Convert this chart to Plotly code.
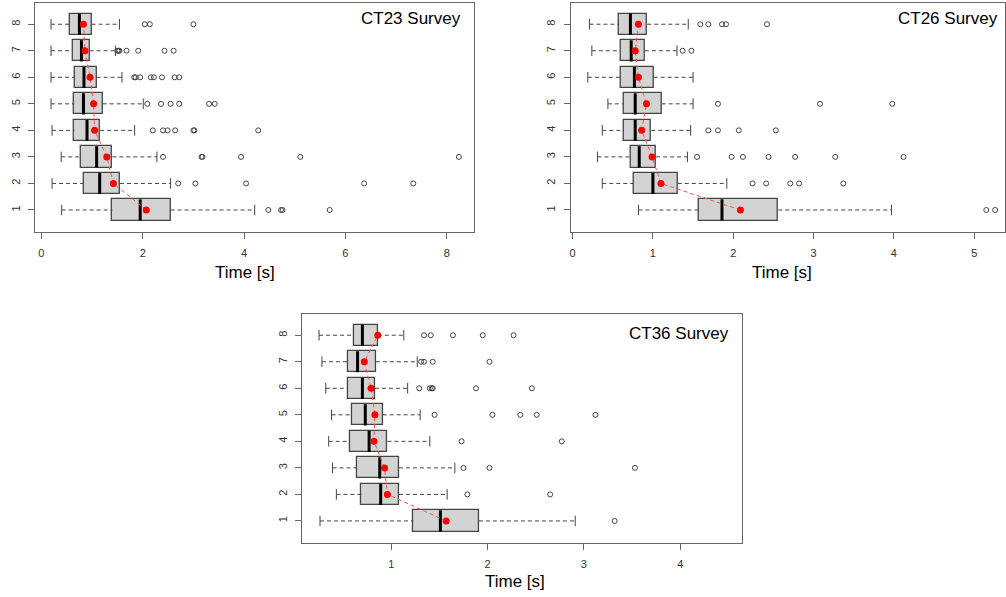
import plotly.graph_objects as go

categories = [1, 2, 3, 4, 5, 6, 7, 8]

# ---------------- CT23 survey ----------------
ct23_lower = [0.40, 0.21, 0.39, 0.21, 0.19, 0.19, 0.19, 0.19]
ct23_q1 = [1.40, 0.84, 0.78, 0.65, 0.65, 0.66, 0.62, 0.57]
ct23_median = [1.95, 1.15, 1.09, 0.90, 0.83, 0.84, 0.79, 0.75]
ct23_q3 = [2.55, 1.55, 1.40, 1.16, 1.21, 1.09, 0.95, 0.99]
ct23_upper = [4.21, 2.55, 2.28, 1.84, 2.01, 1.59, 1.46, 1.54]
ct23_mean = [2.07, 1.42, 1.29, 1.05, 1.03, 0.96, 0.86, 0.83]
ct23_outliers = [
    [4.48, 4.73, 4.76, 5.69],
    [2.70, 3.04, 4.04, 6.37, 7.34],
    [2.40, 3.16, 3.18, 3.94, 5.11, 8.24],
    [2.20, 2.40, 2.49, 2.64, 3.00, 3.02, 4.28],
    [2.09, 2.36, 2.55, 2.72, 3.31, 3.42],
    [1.83, 1.86, 1.95, 2.16, 2.22, 2.38, 2.63, 2.72],
    [1.50, 1.52, 1.54, 1.68, 1.91, 2.43, 2.61],
    [2.04, 2.14, 3.00],
]

# ---------------- CT26 survey ----------------
ct26_lower = [0.82, 0.37, 0.31, 0.37, 0.44, 0.19, 0.24, 0.21]
ct26_q1 = [1.57, 0.76, 0.73, 0.64, 0.64, 0.60, 0.60, 0.58]
ct26_median = [1.86, 1.00, 0.83, 0.78, 0.78, 0.77, 0.73, 0.72]
ct26_q3 = [2.56, 1.31, 1.04, 0.98, 1.11, 1.01, 0.90, 0.93]
ct26_upper = [3.97, 1.92, 1.43, 1.47, 1.50, 1.50, 1.30, 1.44]
ct26_mean = [2.09, 1.10, 0.99, 0.86, 0.92, 0.82, 0.78, 0.82]
ct26_outliers = [
    [5.15, 5.26],
    [2.24, 2.41, 2.71, 2.82, 3.37],
    [1.55, 1.98, 2.12, 2.44, 2.77, 3.27, 4.12],
    [1.69, 1.81, 2.07, 2.53],
    [1.81, 3.08, 3.98],
    [],
    [1.37, 1.48],
    [1.59, 1.69, 1.86, 1.91, 2.42],
]

# ---------------- CT36 survey ----------------
ct36_lower = [0.26, 0.43, 0.39, 0.35, 0.38, 0.32, 0.28, 0.25]
ct36_q1 = [1.23, 0.69, 0.64, 0.57, 0.59, 0.55, 0.55, 0.61]
ct36_median = [1.51, 0.89, 0.88, 0.77, 0.73, 0.70, 0.65, 0.70]
ct36_q3 = [1.91, 1.08, 1.08, 0.96, 0.91, 0.83, 0.84, 0.86]
ct36_upper = [2.91, 1.58, 1.66, 1.40, 1.30, 1.17, 1.27, 1.13]
ct36_mean = [1.57, 0.96, 0.93, 0.82, 0.83, 0.79, 0.72, 0.86]
ct36_outliers = [
    [3.32],
    [1.79, 2.65],
    [1.75, 2.02, 3.53],
    [1.73, 2.77],
    [1.45, 2.05, 2.34, 2.51, 3.12],
    [1.29, 1.40, 1.42, 1.43, 1.88, 2.46],
    [1.31, 1.34, 1.43, 2.02],
    [1.34, 1.41, 1.64, 1.95, 2.27],
]

panel_titles = ["CT23 Survey", "CT26 Survey", "CT36 Survey"]
x_title = "Time [s]"

BOX_W = 0.8
CAP_W = 0.4
OUTLINE = "#444444"
FRAME = "#666666"
FONT = "Liberation Sans, Arial, sans-serif"

fig = go.Figure()


def add_panel(xa, ya, lower, q1, med, q3, upper, mean, outliers):
    wx, wy, cx, cy, mx, my = [], [], [], [], [], []
    for c, lo, a, m, b, hi in zip(categories, lower, q1, med, q3, upper):
        wx += [lo, a, None, b, hi, None]
        wy += [c, c, None, c, c, None]
        cx += [lo, lo, None, hi, hi, None]
        cy += [c - CAP_W / 2, c + CAP_W / 2, None, c - CAP_W / 2, c + CAP_W / 2, None]
        mx += [m, m, None]
        my += [c - BOX_W / 2, c + BOX_W / 2, None]
    fig.add_trace(go.Scatter(x=wx, y=wy, mode="lines", xaxis=xa, yaxis=ya,
                             line=dict(color=OUTLINE, width=1, dash="4px,3px"),
                             hoverinfo="skip", showlegend=False))
    fig.add_trace(go.Scatter(x=cx, y=cy, mode="lines", xaxis=xa, yaxis=ya,
                             line=dict(color=OUTLINE, width=1),
                             hoverinfo="skip", showlegend=False))
    fig.add_trace(go.Bar(y=categories, x=[b - a for a, b in zip(q1, q3)], base=q1,
                         orientation="h", width=BOX_W, xaxis=xa, yaxis=ya,
                         marker=dict(color="#D3D3D3", line=dict(color=OUTLINE, width=1.3)),
                         showlegend=False))
    fig.add_trace(go.Scatter(x=mx, y=my, mode="lines", xaxis=xa, yaxis=ya,
                             line=dict(color="black", width=3),
                             hoverinfo="skip", showlegend=False))
    ox, oy = [], []
    for c, outs in zip(categories, outliers):
        ox += outs
        oy += [c] * len(outs)
    fig.add_trace(go.Scatter(x=ox, y=oy, mode="markers", xaxis=xa, yaxis=ya,
                             marker=dict(symbol="circle-open", size=5,
                                         color="#444444", line=dict(width=1)),
                             showlegend=False))
    fig.add_trace(go.Scatter(x=mean, y=categories, mode="lines+markers",
                             xaxis=xa, yaxis=ya,
                             line=dict(color="#FF5050", width=1, dash="4px,3px"),
                             marker=dict(color="#FF0000", size=7),
                             showlegend=False))


add_panel("x", "y", ct23_lower, ct23_q1, ct23_median, ct23_q3, ct23_upper, ct23_mean, ct23_outliers)
add_panel("x2", "y2", ct26_lower, ct26_q1, ct26_median, ct26_q3, ct26_upper, ct26_mean, ct26_outliers)
add_panel("x3", "y3", ct36_lower, ct36_q1, ct36_median, ct36_q3, ct36_upper, ct36_mean, ct36_outliers)

W, H = 1006, 597


def xaxis(domain, rng, anchor, tickvals):
    return dict(domain=domain, range=rng, anchor=anchor, showgrid=False, zeroline=False,
                showline=True, mirror=True, linecolor=FRAME, linewidth=1,
                ticks="outside", ticklen=6, tickcolor=FRAME, tickvals=tickvals,
                ticklabelstandoff=5,
                tickfont=dict(family=FONT, size=11, color="#333333"))


def yaxis(domain, rng, anchor):
    return dict(domain=domain, range=rng, anchor=anchor, showgrid=False, zeroline=False,
                showline=True, mirror=True, linecolor=FRAME, linewidth=1,
                ticks="outside", ticklen=6, tickcolor=FRAME, tickvals=categories,
                tickangle=-90, ticklabelstandoff=4,
                tickfont=dict(family=FONT, size=11, color="#333333"))


fig.update_layout(
    width=W, height=H,
    margin=dict(l=0, r=0, t=0, b=0),
    paper_bgcolor="white", plot_bgcolor="white",
    bargap=0,
    xaxis=xaxis([34 / W, 474 / W], [-0.128, 8.54], "y", [0, 2, 4, 6, 8]),
    yaxis=yaxis([1 - 232 / H, 1 - 3 / H], [0.17, 8.8], "x"),
    xaxis2=xaxis([571 / W, 1.0], [-0.021, 5.383], "y2", [0, 1, 2, 3, 4, 5]),
    yaxis2=yaxis([1 - 232 / H, 1 - 3 / H], [0.17, 8.8], "x2"),
    xaxis3=xaxis([301.7 / W, 742.3 / W], [0.074, 4.64], "y3", [1, 2, 3, 4]),
    yaxis3=yaxis([1 - 542.7 / H, 1 - 314 / H], [0.18, 8.8], "x3"),
)

annots = []
for txt, xr, yc in [(panel_titles[0], 463, 18), (panel_titles[1], 1001, 18), (panel_titles[2], 731, 333)]:
    annots.append(dict(text=txt, x=xr / W, y=1 - yc / H, xref="paper", yref="paper",
                       xanchor="right", yanchor="middle", showarrow=False,
                       font=dict(family=FONT, size=17, color="black")))
for xc, yc in [(244.5, 272), (783, 272), (515, 581)]:
    annots.append(dict(text=x_title, x=xc / W, y=1 - yc / H, xref="paper", yref="paper",
                       xanchor="center", yanchor="middle", showarrow=False,
                       font=dict(family=FONT, size=17, color="black")))
fig.update_layout(annotations=annots)

fig.write_html(
    "out.html",
    config={"displayModeBar": False},
    post_script="document.body.style.margin='0';document.body.style.overflow='hidden';",
)
